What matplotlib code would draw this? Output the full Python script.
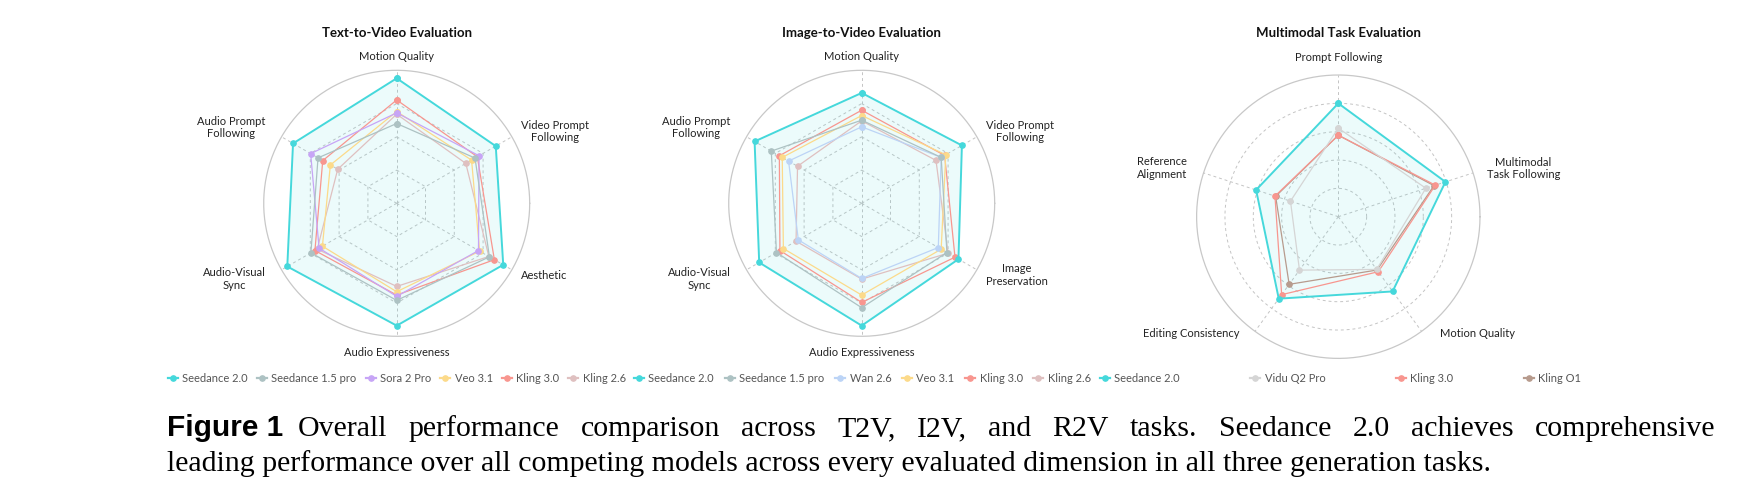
import numpy as np
import matplotlib
matplotlib.use("Agg")
import matplotlib.pyplot as plt
from matplotlib.lines import Line2D

# ---- data (values as fraction of the outer ring) ----
t2v_axes = ["Motion Quality", "Video Prompt\nFollowing", "Aesthetic",
            "Audio Expressiveness", "Audio-Visual\nSync", "Audio Prompt\nFollowing"]
t2v_models = ["Seedance 2.0", "Seedance 1.5 pro", "Sora 2 Pro", "Veo 3.1", "Kling 3.0", "Kling 2.6"]
t2v_seedance20 = [0.94, 0.86, 0.925, 0.92, 0.95, 0.90]
t2v_seedance15 = [0.60, 0.68, 0.805, 0.73, 0.745, 0.683]
t2v_sora2 = [0.68, 0.715, 0.71, 0.70, 0.674, 0.747]
t2v_veo31 = [0.69, 0.65, 0.72, 0.665, 0.645, 0.576]
t2v_kling30 = [0.777, 0.70, 0.848, 0.69, 0.71, 0.642]
t2v_kling26 = [0.67, 0.60, 0.80, 0.625, 0.69, 0.512]

i2v_axes = ["Motion Quality", "Video Prompt\nFollowing", "Image\nPreservation",
            "Audio Expressiveness", "Audio-Visual\nSync", "Audio Prompt\nFollowing"]
i2v_models = ["Seedance 2.0", "Seedance 1.5 pro", "Wan 2.6", "Veo 3.1", "Kling 3.0", "Kling 2.6"]
i2v_seedance20 = [0.83, 0.87, 0.84, 0.92, 0.89, 0.93]
i2v_seedance15 = [0.625, 0.69, 0.74, 0.785, 0.74, 0.785]
i2v_wan26 = [0.575, 0.69, 0.665, 0.565, 0.55, 0.635]
i2v_veo31 = [0.66, 0.73, 0.69, 0.69, 0.68, 0.69]
i2v_kling30 = [0.70, 0.72, 0.81, 0.745, 0.71, 0.715]
i2v_kling26 = [0.62, 0.645, 0.75, 0.57, 0.57, 0.557]

mm_axes = ["Prompt Following", "Multimodal\nTask Following", "Motion Quality",
           "Editing Consistency", "Reference\nAlignment"]
mm_models = ["Seedance 2.0", "Vidu Q2 Pro", "Kling 3.0", "Kling O1"]
mm_seedance20 = [0.80, 0.795, 0.652, 0.715, 0.61]
mm_vidu = [0.625, 0.65, 0.46, 0.466, 0.355]
mm_kling30 = [0.575, 0.72, 0.48, 0.68, 0.47]
mm_klingO1 = [0.575, 0.71, 0.465, 0.59, 0.465]

C = {"Seedance 2.0": "#45d8db", "Seedance 1.5 pro": "#adc2c3", "Sora 2 Pro": "#c7a5f6",
     "Veo 3.1": "#fcda8a", "Kling 3.0": "#f8968f", "Kling 2.6": "#dfc0c0",
     "Wan 2.6": "#bcd4f6", "Vidu Q2 Pro": "#d5d5d5", "Kling O1": "#b79b8d"}

W, H = 1746, 503
plt.rcParams["font.family"] = ["Lato", "DejaVu Sans"]
fig = plt.figure(figsize=(W / 100, H / 100), dpi=100)


def radar(cx, cy, R, title, axes, models, series, grid, lab_r, lab_dth):
    s = 1.7
    ax = fig.add_axes([(cx - s * R) / W, (H - cy - s * R) / H, 2 * s * R / W, 2 * s * R / H])
    ax.set_xlim(-s, s)
    ax.set_ylim(-s, s)
    ax.axis("off")
    n = len(axes)
    th = np.arange(n) * 2 * np.pi / n          # clockwise from top
    thc = np.append(th, th[0])
    t = np.linspace(0, 2 * np.pi, 400)
    dash = dict(color="#c4c4c4", lw=0.7, ls=(0, (3, 3)), zorder=1)

    ax.plot(np.cos(t), np.sin(t), color="#c8c8c8", lw=0.9, zorder=1)
    for a in th:
        ax.plot([0, np.sin(a)], [0, np.cos(a)], **dash)
    if grid == "poly":
        for lv in [0.25, 0.5, 0.75]:
            ax.plot(lv * np.sin(thc), lv * np.cos(thc), **dash)
    else:
        for lv in [0.2, 0.4, 0.6, 0.8]:
            ax.plot(lv * np.cos(t), lv * np.sin(t), **dash)

    for k, (name, vals) in enumerate(zip(models, series)):
        v = np.append(vals, vals[0])
        x, y = v * np.sin(thc), v * np.cos(thc)
        c = C[name]
        if k == 0:
            ax.fill(x, y, color=c, alpha=0.1, lw=0, zorder=2)
            ax.plot(x, y, color=c, lw=1.4, marker="o", ms=3.8, zorder=6)
        else:
            ax.plot(x, y, color=c, lw=0.9, marker="o", ms=3.8, zorder=5 - k * 0.1)

    for lab, a, r, d in zip(axes, th, lab_r, lab_dth):
        a2 = a + np.radians(d)
        sa = np.sin(a)
        ha = "center" if abs(sa) < 0.05 else ("left" if sa > 0 else "right")
        ax.text(r * np.sin(a2), r * np.cos(a2), lab, ha=ha, va="center",
                multialignment="center", fontsize=8, color="#222222")
    fig.text(cx / W, 1 - 33 / H, title, ha="center", va="center",
             fontsize=9.5, fontweight="bold", color="#111111")


hex_r = [1.105, 1.08, 1.08, 1.12, 1.14, 1.14]
radar(396.7, 203.3, 133, "Text-to-Video Evaluation", t2v_axes, t2v_models,
      [t2v_seedance20, t2v_seedance15, t2v_sora2, t2v_veo31, t2v_kling30, t2v_kling26],
      "poly", hex_r, [0] * 6)
radar(861.7, 203.3, 133, "Image-to-Video Evaluation", i2v_axes, i2v_models,
      [i2v_seedance20, i2v_seedance15, i2v_wan26, i2v_veo31, i2v_kling30, i2v_kling26],
      "poly", hex_r, [0] * 6)
radar(1338.3, 216.7, 141.7, "Multimodal Task Evaluation", mm_axes, mm_models,
      [mm_seedance20, mm_vidu, mm_kling30, mm_klingO1],
      "circle", [1.12, 1.1, 1.096, 1.08, 1.12], [0, 0, -5, 4, 0])


def legend(models, x0, x1):
    hs = [Line2D([], [], color=C[m], lw=1.6, marker="o", ms=3.8) for m in models]
    yc = 1 - 378.6 / H
    fig.legend(hs, models, loc="center", bbox_to_anchor=(x0 / W, yc - 0.02, (x1 - x0) / W, 0.04),
               mode="expand", ncol=len(models), frameon=False, fontsize=8,
               handlelength=0.9, handletextpad=0.4, borderaxespad=0, borderpad=0,
               columnspacing=0.5, labelcolor="#555555")


legend(t2v_models, 168, 626)
legend(i2v_models, 634, 1091)
legend(mm_models, 1100, 1581)

# ---- caption ----
rend = fig.canvas.get_renderer()
cap1 = "Overall performance comparison across T2V, I2V, and R2V tasks. Seedance 2.0 achieves comprehensive"
cap2 = "leading performance over all competing models across every evaluated dimension in all three generation tasks."
serif = "Liberation Serif"

probe = fig.text(0, 0, cap2, fontsize=10, family=serif)
fs = 10 * 1325 / probe.get_window_extent(rend).width
probe.remove()

fig.text(167 / W, 1 - 471 / H, cap2, fontsize=fs, family=serif, va="baseline")
probe = fig.text(0, 0, "Figure 1", fontsize=10, family="Liberation Sans", fontweight="bold")
fsb = 10 * 117 / probe.get_window_extent(rend).width
probe.remove()
fig.text(167 / W, 1 - 436.5 / H, "Figure 1", fontsize=fsb, family="Liberation Sans",
         fontweight="bold", va="baseline")

words = cap1.split()
widths = []
for w in words:
    p = fig.text(0, 0, w, fontsize=fs, family=serif)
    widths.append(p.get_window_extent(rend).width)
    p.remove()
x0, x1 = 298, 1715
gap = (x1 - x0 - sum(widths)) / (len(words) - 1)
x = x0
for w, wd in zip(words, widths):
    fig.text(x / W, 1 - 436.5 / H, w, fontsize=fs, family=serif, va="baseline")
    x += wd + gap

fig.savefig("out.png", dpi=100)
